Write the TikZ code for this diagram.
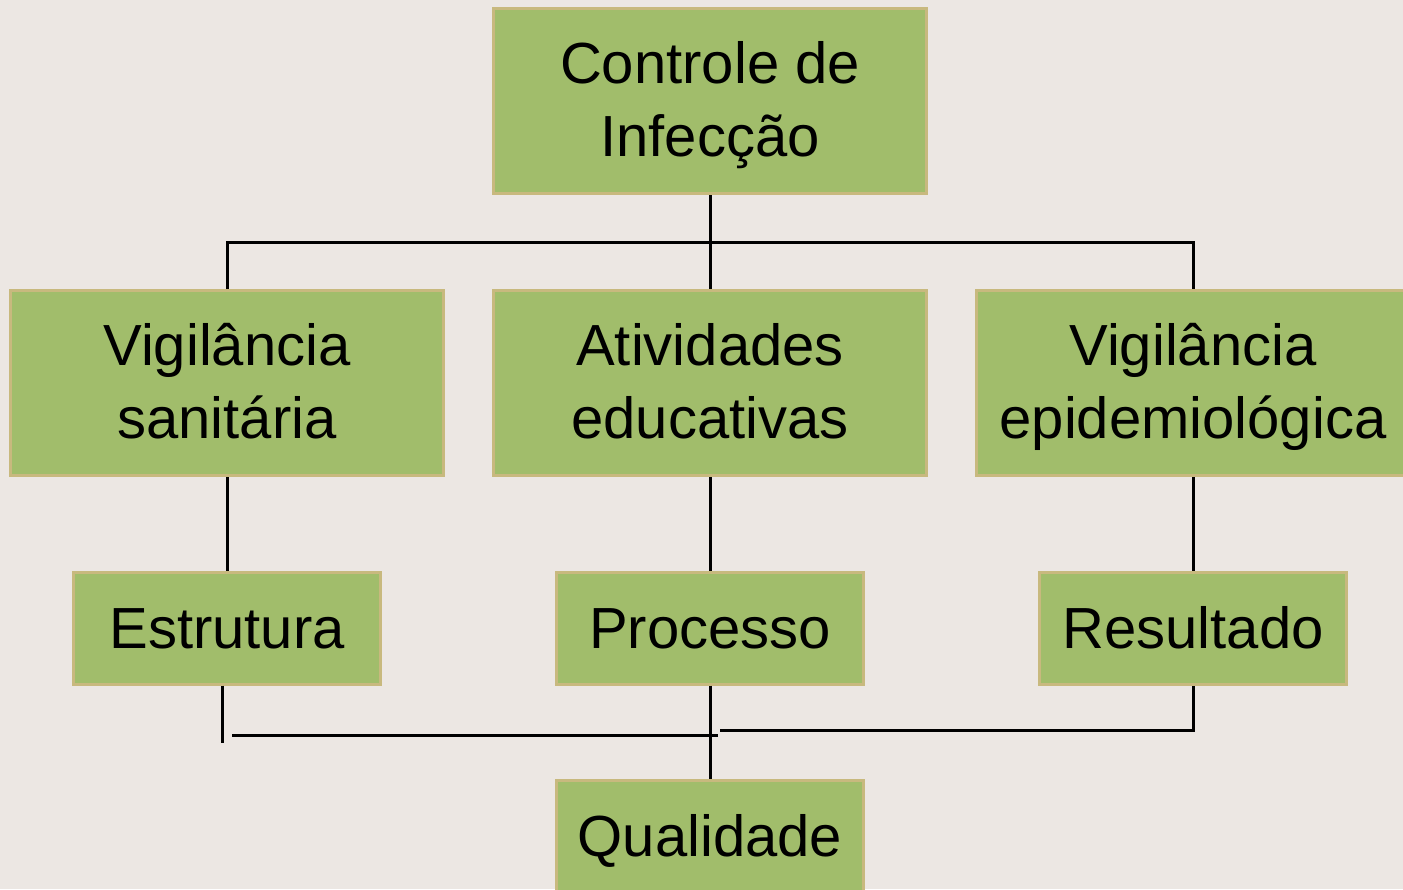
\documentclass[tikz,border=0pt]{standalone}
\usepackage{fontspec}
\setmainfont{Liberation Sans}
\usetikzlibrary{positioning}
\definecolor{bgpaper}{HTML}{ECE7E3}
\definecolor{boxgreen}{HTML}{A1BD6B}
\definecolor{boxtan}{HTML}{C8B97E}
\tikzset{
 bigbox/.style={draw=boxtan, fill=boxgreen, line width=1.5pt, minimum width=216.5pt, minimum height=92.5pt, align=center, inner sep=0pt, font=\fontsize{29}{36.5}\selectfont, text height=65pt, text depth=10pt},
 smallbox/.style={bigbox, minimum width=153.5pt, minimum height=56pt, text height=25pt, text depth=5pt},
 link/.style={black, line width=1.5pt}
}
\begin{document}
\begin{tikzpicture}[x=0.5pt,y=-0.5pt]
\fill[bgpaper] (0,0) rectangle (1403,889);
\useasboundingbox (0,0) rectangle (1403,889);
\node[bigbox] (ctrl) at (710,101) {Controle de\\Infecção};
\node[bigbox] (vsan) at (227,383) {Vigilância\\sanitária};
\node[bigbox] (ativ) at (710,383) {Atividades\\educativas};
\node[bigbox] (vepi) at (1193,383) {Vigilância\\epidemiológica};
\node[smallbox] (estr) at (227,628) {Estrutura};
\node[smallbox] (proc) at (710,628) {Processo};
\node[smallbox] (res) at (1193,628) {Resultado};
\node[smallbox] (qual) at (710,836) {Qualidade};
\coordinate (hub) at (709,242);
\draw[link] (ctrl.south) -- (ativ.north);
\draw[link] (vsan.north) |- (hub) -| (vepi.north);
\draw[link] (vsan.south) -- (estr.north);
\draw[link] (ativ.south) -- (proc.north);
\draw[link] (vepi.south) -- (res.north);
\draw[link] (proc.south) -- (qual.north);
% bottom joins, slightly off as in the original
\draw[link] ([xshift=-2.5pt]estr.south) -- ++(0,57);
\coordinate (lowleft) at (232,735);
\coordinate (lowmid) at (718,735);
\draw[link] (lowleft) -- (lowmid);
\coordinate (lowright) at (720,730);
\draw[link] (lowright) -| (res.south);
\end{tikzpicture}
\end{document}
